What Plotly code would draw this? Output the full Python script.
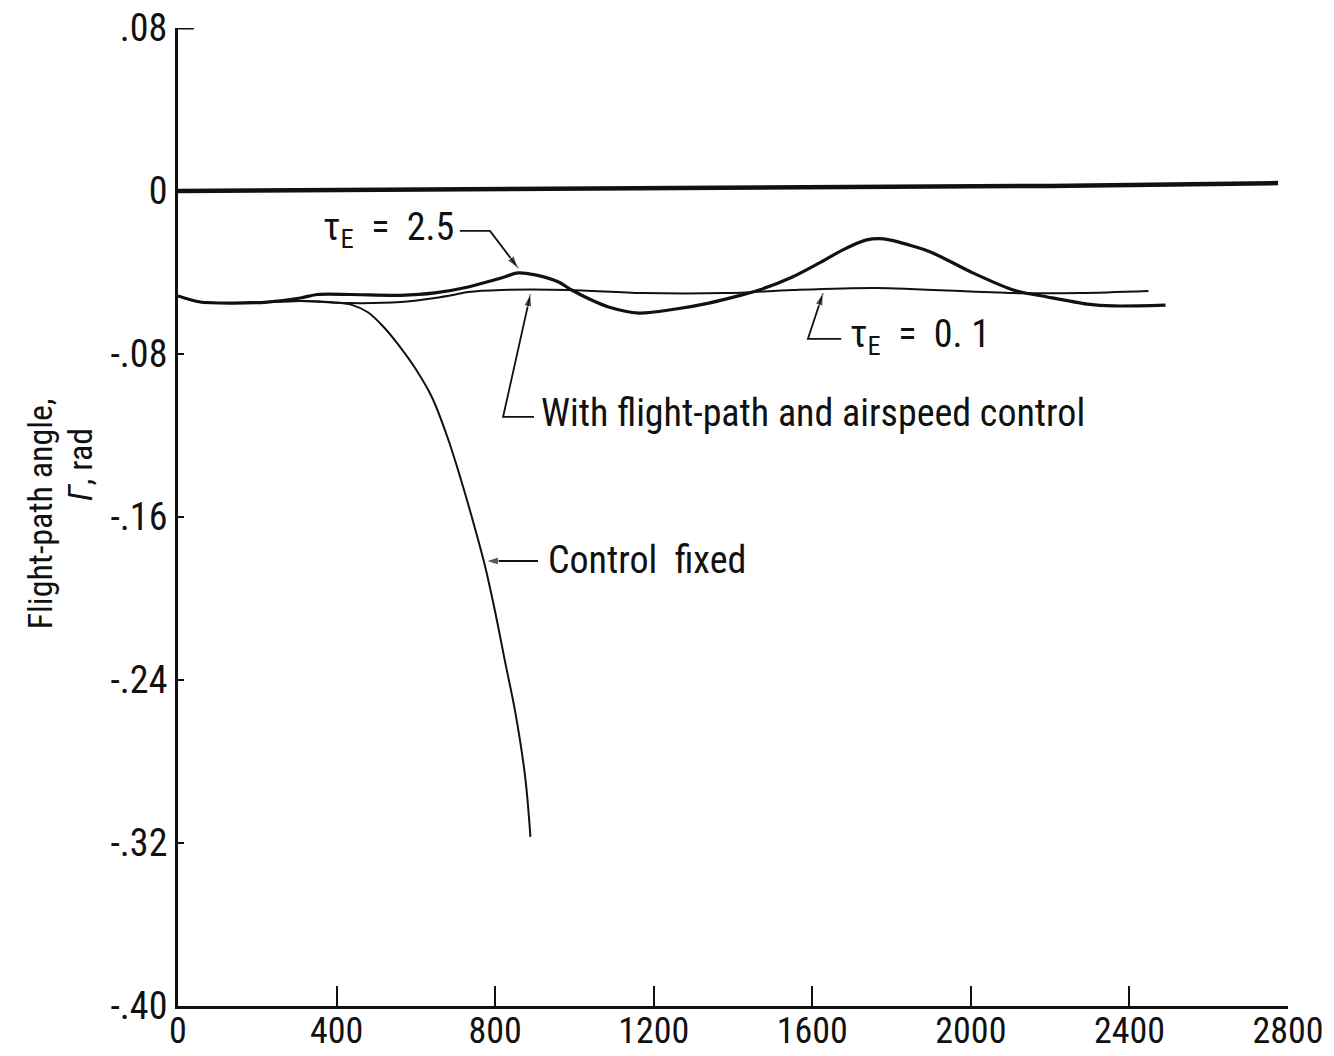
import plotly.graph_objects as go

# Time histories of flight-path angle (rad)
t_ref = [0, 1000, 2200, 2775]
gamma_ref = [0.0, 0.0012, 0.0025, 0.0039]

t_tau25 = [0, 56, 142, 225, 309, 352, 435, 562, 648, 732, 815, 858, 901, 960, 993,
           1043, 1086, 1162, 1256, 1339, 1423, 1466, 1550, 1618, 1676, 1737, 1780,
           1853, 1904, 2005, 2107, 2193, 2294, 2360, 2491]
gamma_tau25 = [-0.0515, -0.0545, -0.0550, -0.0545, -0.0525, -0.0508, -0.0508, -0.0512,
               -0.0500, -0.0471, -0.0427, -0.0402, -0.0412, -0.0447, -0.0486, -0.0535,
               -0.0569, -0.0599, -0.0579, -0.0550, -0.0510, -0.0486, -0.0422, -0.0353,
               -0.0290, -0.0240, -0.0235, -0.0270, -0.0304, -0.0402, -0.0486, -0.0520,
               -0.0555, -0.0564, -0.0560]

t_tau01 = [0, 56, 142, 225, 309, 428, 562, 648, 700, 732, 815, 985, 1170, 1382, 1550,
           1762, 2107, 2276, 2448]
gamma_tau01 = [-0.0515, -0.0545, -0.0550, -0.0545, -0.0540, -0.0550, -0.0545, -0.0525,
               -0.0508, -0.0496, -0.0486, -0.0486, -0.0501, -0.0501, -0.0486, -0.0476,
               -0.0501, -0.0501, -0.0491]

t_fixed = [0, 56, 142, 225, 309, 400, 440, 479, 520, 560, 600, 640, 680, 714, 749, 775,
           800, 825, 851, 876, 889]
gamma_fixed = [-0.0515, -0.0545, -0.0550, -0.0545, -0.0540, -0.0548, -0.0560, -0.0595,
               -0.0670, -0.0765, -0.0875, -0.1010, -0.1210, -0.1418, -0.1655, -0.1845,
               -0.2065, -0.2310, -0.2560, -0.2880, -0.3170]

x_ticks = [0, 400, 800, 1200, 1600, 2000, 2400, 2800]
x_tick_text = ["0", "400", "800", "1200", "1600", "2000", "2400", "2800"]
y_ticks = [0.08, 0.0, -0.08, -0.16, -0.24, -0.32, -0.40]
y_tick_text = [".08", "0", "-.08", "-.16", "-.24", "-.32", "-.40"]

FONT = "Roboto Condensed, Liberation Sans Narrow, DejaVu Sans Condensed, Arial Narrow, sans-serif"
INK = "#111111"
SP = "\u00a0"

fig = go.Figure()
fig.add_trace(go.Scatter(x=t_ref, y=gamma_ref, mode="lines",
                         line=dict(color=INK, width=4.5), hoverinfo="skip"))
fig.add_trace(go.Scatter(x=t_tau01, y=gamma_tau01, mode="lines",
                         line=dict(color=INK, width=2, shape="spline", smoothing=0.8)))
fig.add_trace(go.Scatter(x=t_tau25, y=gamma_tau25, mode="lines",
                         line=dict(color=INK, width=3.2, shape="spline", smoothing=0.8)))
fig.add_trace(go.Scatter(x=t_fixed, y=gamma_fixed, mode="lines",
                         line=dict(color=INK, width=2, shape="spline", smoothing=1.0)))


def leader(xs, ys):
    """Leader line ending in an arrowhead at its last point."""
    sizes = [0] * (len(xs) - 1) + [13]
    fig.add_trace(go.Scatter(
        x=xs, y=ys, mode="lines+markers", hoverinfo="skip",
        line=dict(color=INK, width=1.8),
        marker=dict(symbol="arrow", angleref="previous", size=sizes, color=INK)))


leader([711, 787, 858], [-0.0196, -0.0196, -0.0378])      # tau_E = 2.5
leader([1673, 1589, 1627], [-0.0726, -0.0726, -0.0502])   # tau_E = 0.1
leader([898, 820, 889], [-0.1109, -0.1109, -0.0507])      # controlled system
leader([908, 777], [-0.1816, -0.1816])                    # control fixed

label_font = dict(family=FONT, size=38, color=INK)
title_font = dict(family=FONT, size=34, color=INK)

annotations = [
    dict(x=701, y=-0.0190, text=f"τ<sub>E</sub>{SP}{SP}={SP}{SP}2.5", showarrow=False,
         xanchor="right", yanchor="middle", font=label_font),
    dict(x=1690, y=-0.0715, text=f"τ<sub>E</sub>{SP}{SP}={SP}{SP}0.{SP}1", showarrow=False,
         xanchor="left", yanchor="middle", font=label_font),
    dict(x=910, y=-0.1090, text="With flight-path and airspeed control", showarrow=False,
         xanchor="left", yanchor="middle", font=label_font),
    dict(x=928, y=-0.1810, text=f"Control{SP}{SP}fixed", showarrow=False,
         xanchor="left", yanchor="middle", font=label_font),
    # y-axis title (two offset lines)
    dict(xref="paper", yref="y", x=-0.124, y=-0.1585, text="Flight-path angle,",
         textangle=-90, showarrow=False, xanchor="center", yanchor="middle",
         font=title_font),
    dict(xref="paper", yref="y", x=-0.088, y=-0.1345, text="<i>Γ</i>, rad",
         textangle=-90, showarrow=False, xanchor="center", yanchor="middle",
         font=title_font),
]

shapes = [
    # short stub at the top of the ordinate
    dict(type="line", xref="x", yref="y", x0=0, x1=40, y0=0.08, y1=0.08,
         line=dict(color=INK, width=3)),
]

fig.update_layout(
    width=1334, height=1056,
    margin=dict(l=178, r=46, t=28, b=50),
    paper_bgcolor="white", plot_bgcolor="white",
    showlegend=False,
    font=dict(family=FONT, color=INK),
    annotations=annotations,
    shapes=shapes,
    xaxis=dict(range=[0, 2800], tickvals=x_ticks, ticktext=x_tick_text,
               automargin=False, ticklabelstandoff=-9,
               showgrid=False, zeroline=False, showline=True, linecolor=INK,
               linewidth=3, ticks="inside", ticklen=20, tickwidth=2, tickcolor=INK,
               tickfont=dict(family=FONT, size=36, color=INK)),
    yaxis=dict(range=[-0.40, 0.08], tickvals=y_ticks, ticktext=y_tick_text,
               automargin=False,
               showgrid=False, zeroline=False, showline=True, linecolor=INK,
               linewidth=3, ticks="inside", ticklen=6, tickwidth=2, tickcolor=INK,
               tickfont=dict(family=FONT, size=38, color=INK)),
)

fig.write_html("out.html")
